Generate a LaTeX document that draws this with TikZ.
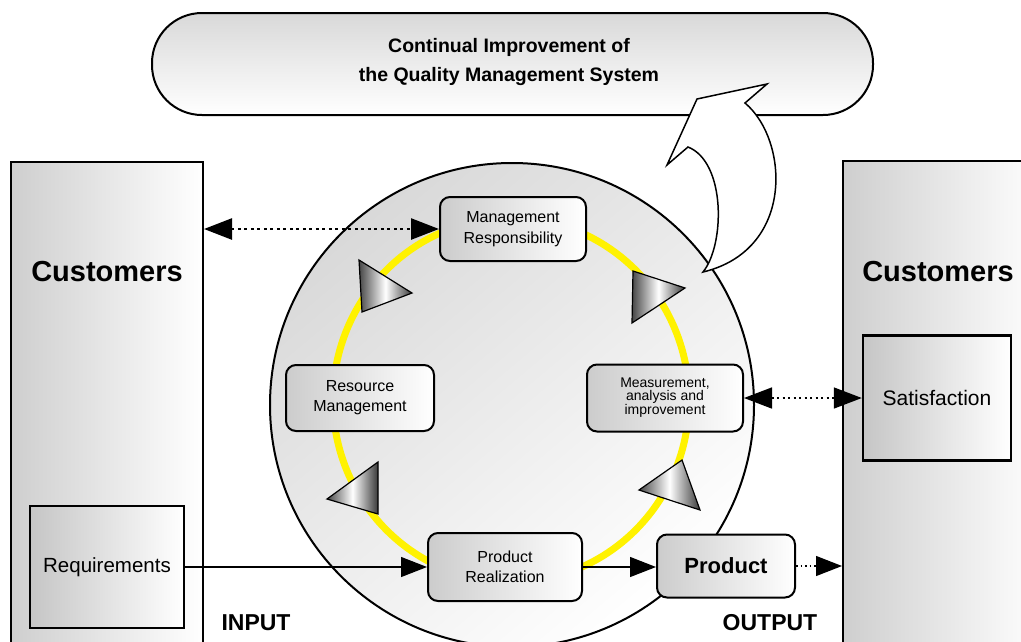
\documentclass[tikz,border=0pt]{standalone}
\usepackage{fontspec}
\setmainfont{Liberation Sans}
\usetikzlibrary{arrows.meta,shapes.geometric}
\begin{document}
\begin{tikzpicture}[x=1pt,y=-1pt,
  cbox/.style={draw=black, line width=2pt, left color=gray!38, right color=white, inner sep=0pt},
  sbox/.style={draw=black, line width=2.4pt, left color=gray!45, right color=white, inner sep=0pt, align=center},
  pbox/.style={draw=black, line width=2pt, rounded corners=10pt, left color=gray!40, right color=white, inner sep=0pt, align=center},
  lbl/.style={inner sep=0pt, align=center},
  tri/.style={draw=black, line width=1.2pt, left color=gray!55!black, right color=gray!45!black, middle color=white},
  tip/.style={-{Triangle[length=26pt,width=20pt]}},
  dtip/.style={{Triangle[length=28pt,width=21pt]}-{Triangle[length=28pt,width=21pt]}},
]
\useasboundingbox (0,0) rectangle (1021,641);
\clip (0,0) rectangle (1021,641);

% banner
\node (cim) [draw=black, line width=2pt, rounded corners=50pt, top color=gray!30, bottom color=white,
  minimum width=721pt, minimum height=102pt, inner sep=0pt] at (512.5,64) {};
\node (cimtext) [lbl, font=\bfseries\fontsize{19.5}{29}\selectfont] at (509,62)
  {Continual Improvement of\\the Quality Management System};

% customers boxes
\node (custL) [cbox, minimum width=192pt, minimum height=510pt, anchor=north west] at (10,161) {};
\node (custR) [cbox, minimum width=200pt, minimum height=510pt, anchor=north west] at (842,160) {};
\node (custLl) [lbl, font=\bfseries\fontsize{29}{34}\selectfont] at (107,272) {Customers};
\node (custRl) [lbl, font=\bfseries\fontsize{29}{34}\selectfont] at (938,272) {Customers};
\node (req) [sbox, minimum width=154pt, minimum height=122pt, font=\fontsize{20.5}{24}\selectfont] at (107,567) {Requirements};
\node (sat) [sbox, minimum width=148pt, minimum height=125pt, font=\fontsize{21}{24}\selectfont] at (937,398) {Satisfaction};

% big circle
\node (circ) [circle, draw=black, line width=2pt, minimum size=484pt, inner sep=0pt,
  top color=gray!30, bottom color=white, shading angle=40] at (512,405) {};
\draw[yellow, line width=7pt] (511,400) ellipse [x radius=178pt, y radius=182pt];

% process nodes
\node (mr) [pbox, minimum width=146pt, minimum height=64pt, font=\fontsize{16}{21}\selectfont] at (513,229) {Management\\Responsibility};
\node (rm) [pbox, minimum width=148pt, minimum height=66pt, font=\fontsize{16}{20}\selectfont] at (360,398) {Resource\\Management};
\node (mai) [pbox, minimum width=156pt, minimum height=67pt, font=\fontsize{14}{13}\selectfont] at (665,398) {Measurement,\\analysis and\\improvement};
\node (pr) [pbox, minimum width=154pt, minimum height=68pt, font=\fontsize{16}{20}\selectfont] at (505,567) {Product\\Realization};
\node (prod) [pbox, minimum width=138pt, minimum height=63pt, font=\bfseries\fontsize{22}{26}\selectfont] at (726,566) {Product};

% direction triangles
\shadedraw[tri] (359,260) -- (412,293) -- (362,312) -- cycle;
\shadedraw[tri] (633,271) -- (685,288) -- (632,323) -- cycle;
\shadedraw[tri] (682,460) -- (700,510) -- (639,490) -- cycle;
\shadedraw[tri] (378,462) -- (378,514) -- (327,499) -- cycle;

% curved improvement arrow
\filldraw[fill=white, draw=black, line width=1.5pt, line join=miter]
  (703,272) .. controls (725,245) and (726,162) .. (688,147)
  -- (667,165) -- (697,99) -- (767,84) -- (745,103)
  .. controls (789,140) and (795,250) .. (703,272) -- cycle;

% connectors
\draw[dtip, line width=2.5pt, dash pattern=on 3pt off 3.5pt] (custL.east |- mr.west) -- (mr.west);
\draw[dtip, line width=1.6pt, dash pattern=on 2pt off 3.5pt] (mai.east) -- (sat.west);
\draw[tip, line width=1.2pt] (req.east) -- (pr.west);
\draw[tip, line width=1.2pt] (pr.east) -- (pr.east -| prod.west);
\draw[tip, line width=1.2pt, dash pattern=on 1.5pt off 3pt] (prod.east) -- (prod.east -| custR.west);

% labels
\node (inlbl) [lbl, font=\bfseries\fontsize{23}{26}\selectfont] at (256,623) {INPUT};
\node (outlbl) [lbl, font=\bfseries\fontsize{23}{26}\selectfont] at (770,623) {OUTPUT};
\end{tikzpicture}
\end{document}
